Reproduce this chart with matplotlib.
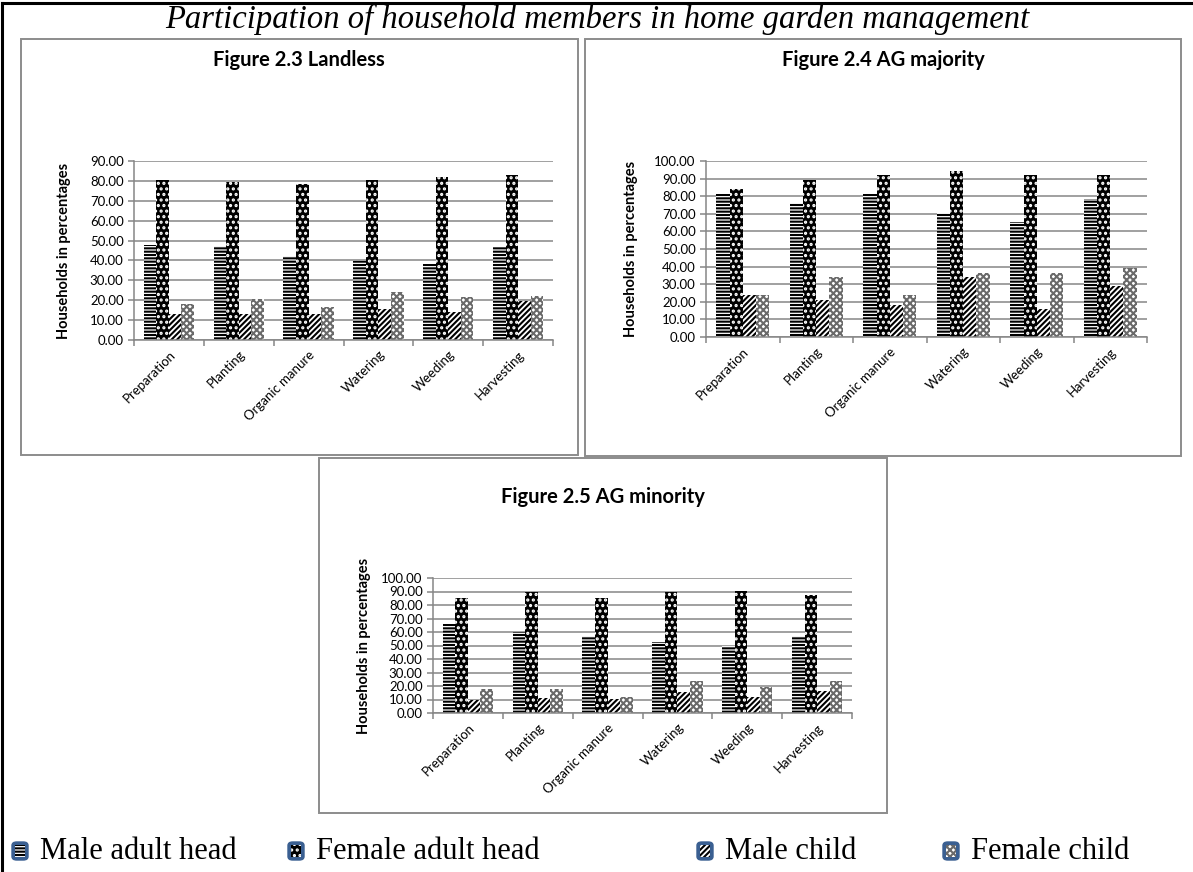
import numpy as np
import matplotlib.pyplot as plt
from matplotlib.patches import Rectangle, FancyBboxPatch
from matplotlib.lines import Line2D

plt.rcParams["hatch.linewidth"] = 1.5

tasks = ["Preparation", "Planting", "Organic manure", "Watering", "Weeding", "Harvesting"]
members = ["Male adult head", "Female adult head", "Male child", "Female child"]

# Landless households (%)
landless_male_adult = [48.0, 47.3, 42.2, 40.0, 38.4, 47.0]
landless_female_adult = [80.5, 79.6, 78.2, 80.5, 81.8, 83.2]
landless_male_child = [13.0, 13.0, 13.0, 15.6, 14.0, 19.5]
landless_female_child = [18.2, 20.4, 16.7, 24.0, 21.5, 22.3]

# AG majority households (%)
major_male_adult = [81.2, 75.9, 81.2, 70.4, 65.1, 78.5]
major_female_adult = [84.0, 89.2, 91.8, 94.6, 92.0, 92.0]
major_male_child = [23.7, 21.1, 18.3, 34.1, 15.8, 29.2]
major_female_child = [23.7, 34.2, 23.7, 36.6, 36.6, 39.3]

# AG minority households (%)
minor_male_adult = [65.8, 59.8, 56.7, 52.5, 49.7, 56.7]
minor_female_adult = [85.1, 89.5, 85.1, 89.5, 90.5, 87.7]
minor_male_child = [9.9, 10.9, 10.5, 15.9, 11.5, 16.5]
minor_female_child = [17.5, 17.9, 12.1, 23.5, 18.9, 23.5]

# face colour, hatch, hatch colour for each member
styles = [
    ("white", "-----", "black"),
    ("black", "...", "white"),
    ("white", "//////", "black"),
    ("white", "xxxxx", "#6a6a6a"),
]

W, H = 1193, 872
fig = plt.figure(figsize=(W / 100, H / 100), dpi=100)
GRID = "#868686"
SANS = "Lato"


def px(x0, y0, x1, y1):
    return [x0 / W, 1 - y1 / H, (x1 - x0) / W, (y1 - y0) / H]


def frame(x0, y0, x1, y1):
    fig.add_artist(Rectangle((x0 / W, 1 - y1 / H), (x1 - x0) / W, (y1 - y0) / H,
                             transform=fig.transFigure, fill=False,
                             edgecolor="#8c8c8c", lw=1.4))


def chart(rect, series, ymax, title, title_pos, ylabel_x):
    ax = fig.add_axes(px(*rect))
    x = np.arange(len(tasks))
    w = 0.18
    for i, (vals, (fc, hatch, hc)) in enumerate(zip(series, styles)):
        ax.bar(x + (i - 1.5) * w, vals, w, color=fc, edgecolor=hc,
               hatch=hatch, linewidth=0, zorder=2)
    ax.set_xlim(-0.5, len(tasks) - 0.5)
    ax.set_ylim(0, ymax)
    yt = np.arange(0, ymax + 1, 10)
    ax.set_yticks(yt)
    ax.set_yticklabels([f"{v:.2f}" for v in yt], fontsize=9.5, family=SANS)
    ax.yaxis.grid(True, color=GRID, lw=1.1)
    ax.set_axisbelow(True)
    for s in ["top", "right"]:
        ax.spines[s].set_visible(False)
    for s in ["left", "bottom"]:
        ax.spines[s].set_color(GRID)
        ax.spines[s].set_linewidth(1.1)
    ax.set_xticks(np.arange(-0.5, len(tasks), 1))
    ax.set_xticklabels([])
    ax.set_xticks(x, minor=True)
    ax.set_xticklabels(tasks, minor=True, rotation=45, ha="right",
                       rotation_mode="anchor", fontsize=9.5, family=SANS)
    ax.tick_params(axis="x", which="minor", length=0, pad=6)
    ax.tick_params(axis="both", which="major", color=GRID, length=4, width=1.1)
    fig.text(title_pos[0] / W, 1 - title_pos[1] / H, title, ha="center",
             va="center", fontsize=14.5, fontweight="bold", family=SANS)
    cy = (rect[1] + rect[3]) / 2
    fig.text(ylabel_x / W, 1 - cy / H, "Households in percentages", rotation=90,
             ha="center", va="center", fontsize=10.5, fontweight="bold", family=SANS)
    return ax


# outer page frame (top and left rule)
fig.add_artist(Line2D([2 / W, 1], [1 - 3 / H, 1 - 3 / H], transform=fig.transFigure,
                      color="black", lw=2.2))
fig.add_artist(Line2D([2 / W, 2 / W], [0, 1 - 3 / H], transform=fig.transFigure,
                      color="black", lw=2.2))

fig.text(597 / W, 1 - 19 / H,
         "Participation of household members in home garden management",
         ha="center", va="center", fontsize=23.5, style="italic", family="Liberation Serif")

frame(21, 39, 578, 455)
frame(585, 39, 1181, 456)
frame(319, 458, 887, 813)

chart((134, 161, 553, 340),
      [landless_male_adult, landless_female_adult, landless_male_child, landless_female_child],
      90, "Figure 2.3 Landless", (299, 60), 64)
chart((706, 161, 1147, 337),
      [major_male_adult, major_female_adult, major_male_child, major_female_child],
      100, "Figure 2.4 AG majority", (883, 60), 631)
chart((433, 578, 852, 713),
      [minor_male_adult, minor_female_adult, minor_male_child, minor_female_child],
      100, "Figure 2.5 AG minority", (603, 497), 364)

# legend row
icon_x = [12, 288, 697, 943]
text_x = [40, 316, 725, 971]
for (ix, tx, name, (fc, hatch, hc)) in zip(icon_x, text_x, members, styles):
    fig.add_artist(FancyBboxPatch((ix / W, 1 - 860 / H), 16 / W, 18 / H,
                                  boxstyle="round,pad=0,rounding_size=0.004",
                                  transform=fig.transFigure, facecolor="#3a5f91",
                                  edgecolor="#3a5f91", lw=1))
    fig.add_artist(Rectangle(((ix + 3) / W, 1 - 857 / H), 10 / W, 12 / H,
                             transform=fig.transFigure, facecolor=fc,
                             edgecolor=hc, hatch=hatch, lw=0))
    fig.text(tx / W, 1 - 851 / H, name, ha="left", va="center", fontsize=22,
             family="Liberation Serif")

fig.savefig("out.png", dpi=100)
